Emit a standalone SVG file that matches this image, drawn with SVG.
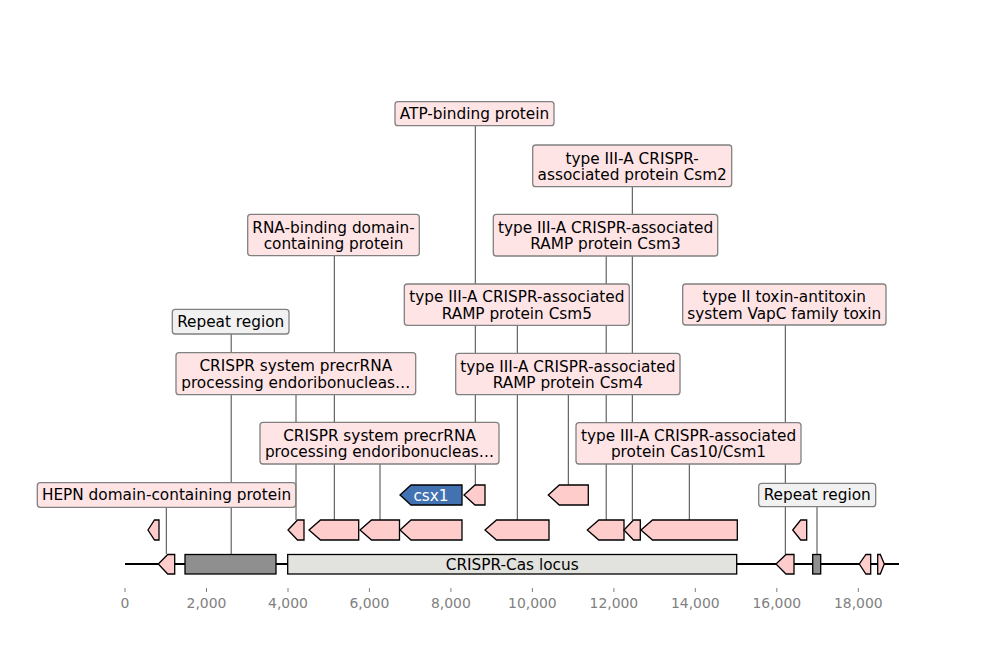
<svg xmlns="http://www.w3.org/2000/svg" width="1000" height="660" viewBox="0 0 1000 660">
<style>
text{font-family:"DejaVu Sans","Liberation Sans",sans-serif;}
.lbl{font-size:15.3px;fill:#000;text-anchor:middle;}
.box{fill:#ffe4e6;stroke:#808080;stroke-width:1.3;}
.gbox{fill:#f1f1f1;stroke:#808080;stroke-width:1.3;}
.feat{fill:#ffcccc;stroke:#000;stroke-width:1.3;stroke-linejoin:miter;}
.link{stroke:#444;stroke-width:1;fill:none;}
.tick{stroke:#808080;stroke-width:1;}
.tl{font-size:13.9px;fill:#808080;text-anchor:middle;}
</style>
<rect width="1000" height="660" fill="#fff"/>

<g id="axis">
<line x1="125" y1="564" x2="899" y2="564" stroke="#000" stroke-width="1.8"/>
<g class="tick">
<line x1="125" y1="588" x2="125" y2="592"/>
<line x1="206.5" y1="588" x2="206.5" y2="592"/>
<line x1="288" y1="588" x2="288" y2="592"/>
<line x1="369.4" y1="588" x2="369.4" y2="592"/>
<line x1="450.9" y1="588" x2="450.9" y2="592"/>
<line x1="532.4" y1="588" x2="532.4" y2="592"/>
<line x1="613.9" y1="588" x2="613.9" y2="592"/>
<line x1="695.3" y1="588" x2="695.3" y2="592"/>
<line x1="776.8" y1="588" x2="776.8" y2="592"/>
<line x1="858.3" y1="588" x2="858.3" y2="592"/>
</g>
<text class="tl" x="125" y="608">0</text>
<text class="tl" x="206.5" y="608">2,000</text>
<text class="tl" x="288" y="608">4,000</text>
<text class="tl" x="369.4" y="608">6,000</text>
<text class="tl" x="450.9" y="608">8,000</text>
<text class="tl" x="532.4" y="608">10,000</text>
<text class="tl" x="613.9" y="608">12,000</text>
<text class="tl" x="695.3" y="608">14,000</text>
<text class="tl" x="776.8" y="608">16,000</text>
<text class="tl" x="858.3" y="608">18,000</text>
</g>

<g id="connectors" class="link">
<line x1="475.3" y1="125.7" x2="475.3" y2="485"/>
<line x1="632.3" y1="186.7" x2="632.3" y2="520"/>
<line x1="334.3" y1="255.7" x2="334.3" y2="520"/>
<line x1="606.2" y1="256" x2="606.2" y2="520"/>
<line x1="231.2" y1="334" x2="231.2" y2="554"/>
<line x1="517.3" y1="325.3" x2="517.3" y2="520"/>
<line x1="785.3" y1="325" x2="785.3" y2="554"/>
<line x1="296" y1="394.7" x2="296" y2="520"/>
<line x1="568.3" y1="394.7" x2="568.3" y2="485"/>
<line x1="380" y1="464" x2="380" y2="520"/>
<line x1="689.3" y1="464" x2="689.3" y2="520"/>
<line x1="166.3" y1="507.3" x2="166.3" y2="554"/>
<line x1="817" y1="506.7" x2="817" y2="554"/>
</g>

<g id="features">
<g id="f-csx1">
<path d="M462 485 L411 485 L400 495 L411 505 L462 505 Z" fill="#4372b2" stroke="#000" stroke-width="1.3"/>
<text x="431" y="500.5" font-size="15.3" fill="#fff" text-anchor="middle">csx1</text>
</g>
<path id="f-atp" class="feat" d="M485 485 L475 485 L464 495 L475 505 L485 505 Z"/>
<path id="f-csm4" class="feat" d="M588.3 485 L559.3 485 L548.3 495 L559.3 505 L588.3 505 Z"/>

<path id="f-r2a" class="feat" d="M159 520 L154.5 520 L148 530 L154.5 540 L159 540 Z"/>
<path id="f-precr1" class="feat" d="M304 520 L297.5 520 L288 530 L297.5 540 L304 540 Z"/>
<path id="f-rnab" class="feat" d="M358.7 520 L320.5 520 L309 530 L320.5 540 L358.7 540 Z"/>
<path id="f-precr2" class="feat" d="M399.5 520 L371.5 520 L360 530 L371.5 540 L399.5 540 Z"/>
<path id="f-r2e" class="feat" d="M462 520 L411 520 L400 530 L411 540 L462 540 Z"/>
<path id="f-csm5" class="feat" d="M549 520 L496.5 520 L485 530 L496.5 540 L549 540 Z"/>
<path id="f-csm3" class="feat" d="M624 520 L598.8 520 L587.3 530 L598.8 540 L624 540 Z"/>
<path id="f-csm2" class="feat" d="M640.3 520 L633.5 520 L624 530 L633.5 540 L640.3 540 Z"/>
<path id="f-cas10" class="feat" d="M737.3 520 L652.5 520 L641 530 L652.5 540 L737.3 540 Z"/>
<path id="f-r2j" class="feat" d="M806.7 520 L800.7 520 L792.7 530 L800.7 540 L806.7 540 Z"/>

<path id="f-hepn" class="feat" d="M174.7 554.5 L167.7 554.5 L158.3 564 L167.7 574 L174.7 574 Z"/>
<rect id="f-repeat1" x="185" y="554.5" width="91" height="19.5" fill="#8f8f8f" stroke="#000" stroke-width="1.3"/>
<g id="f-locus">
<rect x="287.7" y="554.5" width="449" height="19.5" fill="#e2e2de" stroke="#000" stroke-width="1.3"/>
<text class="lbl" x="512.2" y="569.5">CRISPR-Cas locus</text>
</g>
<path id="f-toxin" class="feat" d="M794 554.5 L786 554.5 L776 564 L786 574 L794 574 Z"/>
<rect id="f-repeat2" x="812.7" y="554.5" width="8" height="19.5" fill="#8f8f8f" stroke="#000" stroke-width="1.3"/>
<path id="f-m3" class="feat" d="M870.7 554.5 L865.9 554.5 L859.3 564 L865.9 574 L870.7 574 Z"/>
<path id="f-m4" class="feat" d="M877.7 554.5 L880.3 554.5 L884.3 564 L880.3 574 L877.7 574 Z"/>
</g>

<g id="labels">
<g id="l-atp"><rect class="box" x="395" y="101.7" width="159" height="24" rx="3"/>
<text class="lbl" x="474.5" y="118.8">ATP-binding protein</text></g>
<g id="l-csm2"><rect class="box" x="532.7" y="145" width="199" height="41.7" rx="3"/>
<text class="lbl" x="632.2" y="163.5">type III-A CRISPR-</text>
<text class="lbl" x="632.2" y="180">associated protein Csm2</text></g>
<g id="l-rnab"><rect class="box" x="247.7" y="214.3" width="171.6" height="41.4" rx="3"/>
<text class="lbl" x="333.5" y="232.5">RNA-binding domain-</text>
<text class="lbl" x="333.5" y="249">containing protein</text></g>
<g id="l-csm3"><rect class="box" x="493.3" y="214.3" width="224.4" height="41.7" rx="3"/>
<text class="lbl" x="605.5" y="232.5">type III-A CRISPR-associated</text>
<text class="lbl" x="605.5" y="249">RAMP protein Csm3</text></g>
<g id="l-repeat1"><rect class="gbox" x="172.3" y="309.3" width="116.7" height="24.7" rx="3"/>
<text class="lbl" x="230.7" y="326.5">Repeat region</text></g>
<g id="l-csm5"><rect class="box" x="404.3" y="284" width="225" height="41.3" rx="3"/>
<text class="lbl" x="516.8" y="302.3">type III-A CRISPR-associated</text>
<text class="lbl" x="516.8" y="318.8">RAMP protein Csm5</text></g>
<g id="l-toxin"><rect class="box" x="682.7" y="284" width="203.3" height="41" rx="3"/>
<text class="lbl" x="784.3" y="302.3">type II toxin-antitoxin</text>
<text class="lbl" x="784.3" y="318.8">system VapC family toxin</text></g>
<g id="l-precr1"><rect class="box" x="176" y="352.7" width="239.7" height="42" rx="3"/>
<text class="lbl" x="295.8" y="371">CRISPR system precrRNA</text>
<text class="lbl" x="295.8" y="387.5">processing endoribonucleas…</text></g>
<g id="l-csm4"><rect class="box" x="455.7" y="353.3" width="224.3" height="41.4" rx="3"/>
<text class="lbl" x="567.8" y="371.5">type III-A CRISPR-associated</text>
<text class="lbl" x="567.8" y="388">RAMP protein Csm4</text></g>
<g id="l-precr2"><rect class="box" x="260" y="422.3" width="239" height="41.7" rx="3"/>
<text class="lbl" x="379.5" y="440.5">CRISPR system precrRNA</text>
<text class="lbl" x="379.5" y="457">processing endoribonucleas…</text></g>
<g id="l-cas10"><rect class="box" x="576" y="422.7" width="225" height="41.3" rx="3"/>
<text class="lbl" x="688.5" y="440.7">type III-A CRISPR-associated</text>
<text class="lbl" x="688.5" y="457.2">protein Cas10/Csm1</text></g>
<g id="l-hepn"><rect class="box" x="37.3" y="482.7" width="258.4" height="24.6" rx="3"/>
<text class="lbl" x="166.5" y="500">HEPN domain-containing protein</text></g>
<g id="l-repeat2"><rect class="gbox" x="758.7" y="483.3" width="117" height="23.4" rx="3"/>
<text class="lbl" x="817.2" y="500">Repeat region</text></g>
</g>
</svg>
